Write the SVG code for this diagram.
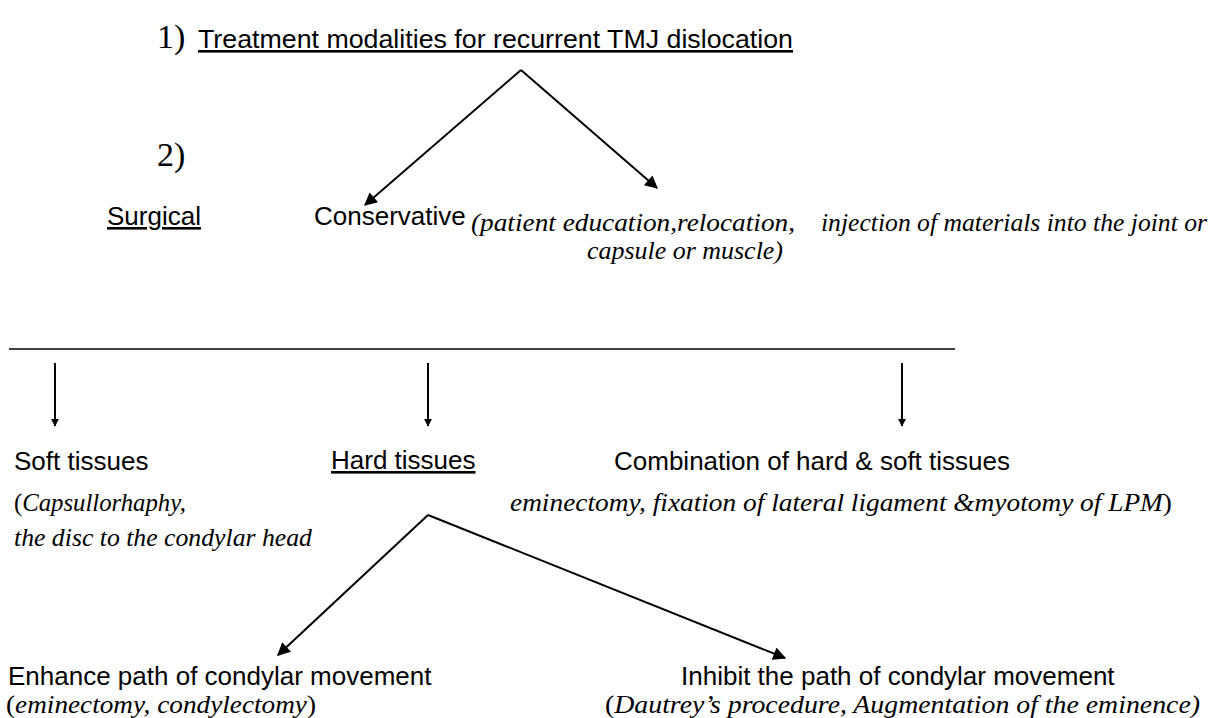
<svg xmlns="http://www.w3.org/2000/svg" width="1223" height="718" viewBox="0 0 1223 718">
<style>
.sans{font-family:"Liberation Sans",Arial,sans-serif;font-size:26px;fill:#000}
.num{font-family:"Liberation Serif","Times New Roman",serif;font-size:34px;fill:#000}
.it{font-family:"Liberation Serif","Times New Roman",serif;font-size:26px;font-style:italic;fill:#000}
.rg{font-style:normal}
.u{text-decoration:underline}
.conn line{stroke:#000;stroke-width:2;fill:none}
</style>
<defs>
<marker id="ah" viewBox="0 0 10 10" refX="9" refY="5" markerWidth="8" markerHeight="8" orient="auto" markerUnits="userSpaceOnUse">
<path d="M0,0 L10,5 L0,10 z" fill="#000"/>
</marker>
<marker id="ah2" viewBox="0 0 10 10" refX="9" refY="5" markerWidth="15" markerHeight="13" orient="auto" markerUnits="userSpaceOnUse">
<path d="M0,0 L10,5 L0,10 z" fill="#000"/>
</marker>
</defs>
<rect width="1223" height="718" fill="#fff"/>
<g id="numbers">
<text class="num" x="157" y="48">1)</text>
<text class="num" x="157" y="166">2)</text>
</g>
<g id="title">
<text class="sans u" x="198" y="48" textLength="595" lengthAdjust="spacingAndGlyphs">Treatment modalities for recurrent TMJ dislocation</text>
</g>
<g id="surgical">
<text class="sans u" x="107" y="225">Surgical</text>
</g>
<g id="conservative">
<text class="sans" x="314" y="225">Conservative</text>
<text class="it" x="471" y="231" textLength="324" lengthAdjust="spacingAndGlyphs">(patient education,relocation,</text>
<text class="it" x="821" y="231" textLength="386" lengthAdjust="spacingAndGlyphs">injection of materials into the joint or</text>
<text class="it" x="587" y="259" textLength="196" lengthAdjust="spacingAndGlyphs">capsule or muscle)</text>
</g>
<g id="soft">
<text class="sans" x="14" y="470">Soft tissues</text>
<text class="it" x="14" y="511" textLength="172" lengthAdjust="spacingAndGlyphs"><tspan class="rg">(</tspan>Capsullorhaphy,</text>
<text class="it" x="14" y="546" textLength="298" lengthAdjust="spacingAndGlyphs">the disc to the condylar head</text>
</g>
<g id="hard">
<text class="sans u" x="331" y="469">Hard tissues</text>
</g>
<g id="combination">
<text class="sans" x="614" y="470">Combination of hard &amp; soft tissues</text>
<text class="it" x="510" y="511" textLength="662" lengthAdjust="spacingAndGlyphs">eminectomy, fixation of lateral ligament &amp;myotomy of LPM<tspan class="rg">)</tspan></text>
</g>
<g id="enhance">
<text class="sans" x="8" y="685">Enhance path of condylar movement</text>
<text class="it" x="6" y="713" textLength="310" lengthAdjust="spacingAndGlyphs"><tspan class="rg">(</tspan>eminectomy, condylectomy<tspan class="rg">)</tspan></text>
</g>
<g id="inhibit">
<text class="sans" x="681" y="685">Inhibit the path of condylar movement</text>
<text class="it" x="605" y="713" textLength="595" lengthAdjust="spacingAndGlyphs"><tspan class="rg">(</tspan>Dautrey’s procedure, Augmentation of the eminence)</text>
</g>
<g id="connectors" class="conn">
<line x1="521" y1="70" x2="365" y2="205" marker-end="url(#ah2)"/>
<line x1="521" y1="70" x2="657" y2="188" marker-end="url(#ah2)"/>
<line x1="9" y1="349" x2="955" y2="349" style="stroke-width:1.5"/>
<line x1="55" y1="363" x2="55" y2="426" marker-end="url(#ah)"/>
<line x1="428" y1="363" x2="428" y2="426" marker-end="url(#ah)"/>
<line x1="902" y1="363" x2="902" y2="426" marker-end="url(#ah)"/>
<line x1="428" y1="515" x2="278" y2="655" marker-end="url(#ah2)"/>
<line x1="428" y1="515" x2="785" y2="658" marker-end="url(#ah2)"/>
</g>
</svg>
